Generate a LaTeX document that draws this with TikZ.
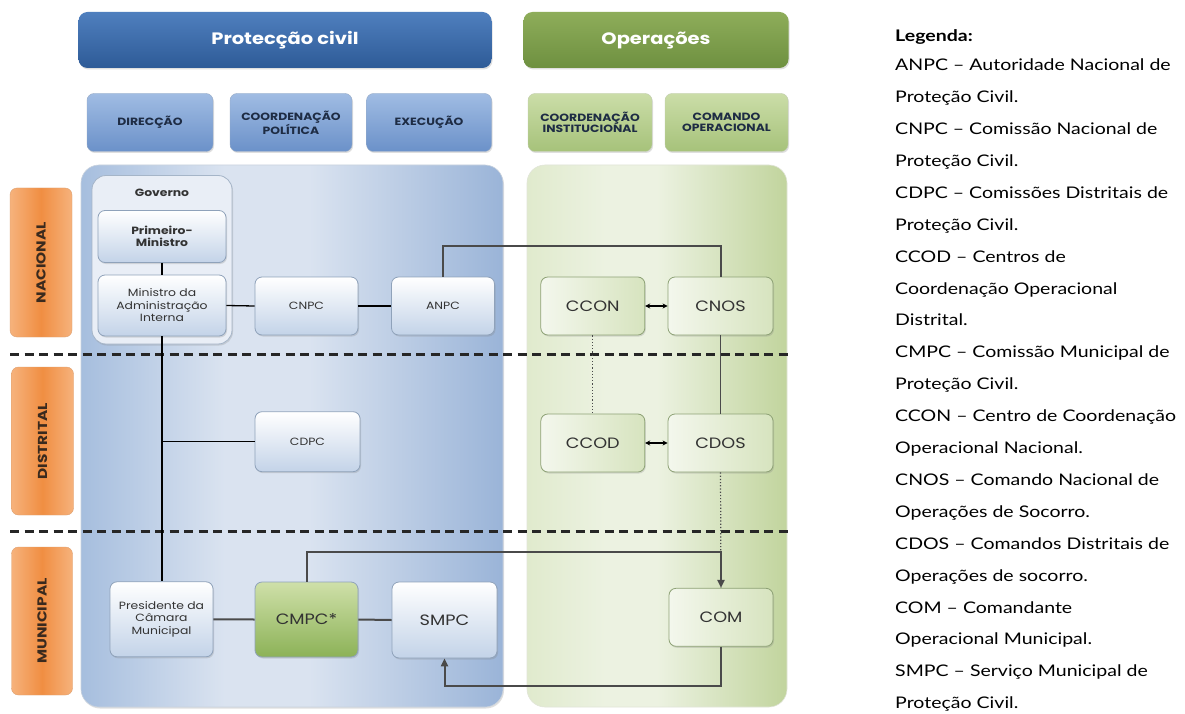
\documentclass[tikz,border=0pt]{standalone}
\usepackage{fontspec}
\setmainfont[FakeStretch=1.22]{Lato}
\newfontfamily\gothic[FakeStretch=1.18]{Poppins}
\usetikzlibrary{shadows,arrows.meta}

\definecolor{hdrbluetop}{HTML}{4F7FBE}
\definecolor{hdrbluebot}{HTML}{2E5B97}
\definecolor{hdrgreentop}{HTML}{8EAD5A}
\definecolor{hdrgreenbot}{HTML}{6E9040}
\definecolor{subbluetop}{HTML}{A0BCE3}
\definecolor{subbluebot}{HTML}{6B91C9}
\definecolor{subgreentop}{HTML}{CBDDA8}
\definecolor{subgreenbot}{HTML}{A6C27A}
\definecolor{panelblueA}{HTML}{A6BEDE}
\definecolor{panelblueB}{HTML}{DAE3F0}
\definecolor{panelblueC}{HTML}{9AB4D8}
\definecolor{nodeblue}{HTML}{C3D3E8}
\definecolor{govfill}{HTML}{E9EEF6}
\definecolor{panelgreenA}{HTML}{E0EACD}
\definecolor{panelgreenB}{HTML}{ECF2E1}
\definecolor{panelgreenC}{HTML}{C1D49D}
\definecolor{cmpctop}{HTML}{CFE0A9}
\definecolor{cmpcbot}{HTML}{8CB257}
\definecolor{orangeedge}{HTML}{F6B27C}
\definecolor{orangemid}{HTML}{F08E42}
\definecolor{labeltext}{HTML}{3A2A1E}
\definecolor{navytext}{HTML}{1E2C44}
\definecolor{boxborder}{HTML}{8FA2BA}
\definecolor{greenborder}{HTML}{8EA276}
\definecolor{linkgray}{HTML}{4A4A4A}
\definecolor{nodetext}{HTML}{333333}

% light band across the middle of the background panels
\pgfdeclarehorizontalshading{bluepanel}{100bp}{color(0bp)=(panelblueA); color(25bp)=(panelblueA);
  color(42bp)=(panelblueB); color(52bp)=(panelblueB); color(75bp)=(panelblueC); color(100bp)=(panelblueC)}
\pgfdeclarehorizontalshading{greenpanel}{100bp}{color(0bp)=(panelgreenA); color(25bp)=(panelgreenA);
  color(40bp)=(panelgreenB); color(50bp)=(panelgreenB); color(75bp)=(panelgreenC); color(100bp)=(panelgreenC)}

\begin{document}
\begin{tikzpicture}[x=1pt,y=-1pt,
  shadowed/.style={drop shadow={opacity=0.25,shadow xshift=1pt,shadow yshift=-1.5pt}},
  mainhdr/.style={rounded corners=9pt,inner sep=0pt,shadowed,
    font=\gothic\bfseries\fontsize{16.5}{20}\selectfont,text=white},
  bluehdr/.style={mainhdr,top color=hdrbluetop,bottom color=hdrbluebot},
  greenhdr/.style={mainhdr,top color=hdrgreentop,bottom color=hdrgreenbot},
  subhdr/.style={rounded corners=7pt,inner sep=0pt,shadowed,align=center,
    font=\gothic\bfseries\fontsize{10.5}{11}\selectfont,text=navytext},
  bluesub/.style={subhdr,top color=subbluetop,bottom color=subbluebot,draw=subbluebot!80!black!60},
  greensub/.style={subhdr,top color=subgreentop,bottom color=subgreenbot,draw=subgreenbot!80!black!50},
  level/.style={rounded corners=7pt,inner sep=0pt,left color=orangeedge,right color=orangeedge,
    middle color=orangemid,draw=orangeedge!90!black},
  leveltext/.style={rotate=90,font=\gothic\bfseries\fontsize{13}{15}\selectfont,text=labeltext},
  bluebox/.style={rounded corners=7pt,inner sep=1pt,align=center,shadowed,
    top color=white,bottom color=nodeblue,draw=boxborder,line width=0.8pt,
    text=nodetext},
  greenbox/.style={rounded corners=7pt,inner sep=1pt,align=center,shadowed,
    left color=panelgreenB!60!white,right color=panelgreenA!70!panelgreenC,draw=greenborder,line width=0.8pt,
    text=nodetext,font=\gothic\fontsize{15}{18}\selectfont},
  small/.style={font=\gothic\fontsize{10.5}{12.5}\selectfont},
  smallbold/.style={font=\gothic\bfseries\fontsize{10.5}{12.5}\selectfont},
  big/.style={font=\gothic\fontsize{15}{18}\selectfont},
  link/.style={draw=linkgray,line width=2pt},
  blacklink/.style={draw=black,line width=1.3pt},
  twoway/.style={draw=black,line width=1.6pt,{Stealth[length=5pt,width=5pt]}-{Stealth[length=5pt,width=5pt]}},
  dotlink/.style={draw=linkgray,line width=1.2pt,dotted},
  tip/.style={-{Triangle[length=8pt,width=7pt]}},
  separator/.style={draw=black!85,line width=2.2pt,dash pattern=on 9pt off 5.5pt}
]
\useasboundingbox (0,0) rectangle (1185,714);
\fill[white] (0,0) rectangle (1185,714);

% column headers
\node[bluehdr,minimum width=413pt,minimum height=56pt] (protec) at (285,40) {Protecção civil};
\node[greenhdr,minimum width=265pt,minimum height=56pt] (oper) at (656,40) {Operações};

\node[bluesub,minimum width=126pt,minimum height=58pt] (direc) at (150,122.5) {DIRECÇÃO};
\node[bluesub,minimum width=122pt,minimum height=58pt] (coordpol) at (291,122.5) {COORDENAÇÃO\\POLÍTICA};
\node[bluesub,minimum width=125pt,minimum height=58pt] (exec) at (429,122.5) {EXECUÇÃO};
\node[greensub,minimum width=124pt,minimum height=58pt] (coordinst) at (590,122.5) {COORDENAÇÃO\\INSTITUCIONAL};
\node[greensub,minimum width=123pt,minimum height=58pt] (comop) at (726.5,122.5) {COMANDO\\OPERACIONAL};

% background panels
\path[rounded corners=18pt,shading=bluepanel,
  draw=panelblueC!80!black!40,line width=0.6pt,shadowed] (81,165) rectangle (503,707);
\path[rounded corners=18pt,shading=greenpanel,
  draw=panelgreenC!80!black!30,line width=0.6pt] (527,165) rectangle (787,707);

% level labels
\node[level,minimum width=62pt,minimum height=149pt] (nac) at (41,262.5) {};
\node[leveltext] (nactxt) at (nac) {NACIONAL};
\node[level,minimum width=62pt,minimum height=148pt] (dis) at (42.5,441) {};
\node[leveltext] (distxt) at (dis) {DISTRITAL};
\node[level,minimum width=61pt,minimum height=148pt] (mun) at (42,621) {};
\node[leveltext] (muntxt) at (mun) {MUNICIPAL};

% level separators
\draw[separator] (10,354.5) -- (788,354.5);
\draw[separator] (10,531.5) -- (788,531.5);

% government group
\path[rounded corners=14pt,fill=govfill,draw=boxborder!80,line width=0.8pt,shadowed]
  (92,175.5) rectangle (232,344);
\node[smallbold,text=nodetext] (gov) at (162,193) {Governo};

% nodes, civil protection
\node[bluebox,smallbold,minimum width=128pt,minimum height=52pt] (pm) at (162,236.5) {Primeiro-\\Ministro};
\node[bluebox,small,minimum width=128pt,minimum height=61pt] (min) at (162,305.5) {Ministro da\\Administração\\Interna};
\node[bluebox,small,minimum width=103pt,minimum height=58pt] (cnpc) at (306.5,306) {CNPC};
\node[bluebox,small,minimum width=103pt,minimum height=58pt] (anpc) at (443,306) {ANPC};
\node[bluebox,small,minimum width=105pt,minimum height=60pt] (cdpc) at (307.5,441.7) {CDPC};
\node[bluebox,small,minimum width=103pt,minimum height=75pt] (pres) at (161.5,619.3) {Presidente da\\Câmara\\Municipal};
\node[rounded corners=7pt,inner sep=1pt,shadowed,top color=cmpctop,bottom color=cmpcbot,
  draw=boxborder,line width=0.8pt,text=nodetext,big,minimum width=103pt,minimum height=75pt] (cmpc) at (306.5,619.5) {CMPC*};
\node[bluebox,big,minimum width=105pt,minimum height=76pt] (smpc) at (444.5,620) {SMPC};

% nodes, operations
\node[greenbox,minimum width=104pt,minimum height=58pt] (ccon) at (592.8,306) {CCON};
\node[greenbox,minimum width=105pt,minimum height=58pt] (cnos) at (720.5,306) {CNOS};
\node[greenbox,minimum width=104pt,minimum height=58pt] (ccod) at (592.8,443) {CCOD};
\node[greenbox,minimum width=105pt,minimum height=58pt] (cdos) at (720.5,443) {CDOS};
\node[greenbox,minimum width=104pt,minimum height=58pt] (com) at (721,617.3) {COM};

% connectors
\coordinate (anpcup) at (0,246);
\coordinate (cmpcup) at (0,552);
\coordinate (combot) at (0,685.5);

\draw[blacklink] (pm) -- (min);
\draw[blacklink] (min.south) -- (min.south |- pres.north);
\draw[blacklink] (min.south |- cdpc.west) -- (cdpc.west);
\draw[blacklink] (min.east) -- (cnpc.west);
\draw[blacklink] (cnpc.east) -- (anpc.west);
\draw[link] (anpc.north) |- (cnos.north |- anpcup) -- (cnos.north);
\draw[twoway] (ccon.east) -- (cnos.west);
\draw[twoway] (ccod.east) -- (cdos.west);
\draw[dotlink] (ccon.south) -- (ccod.north);
\draw[draw=linkgray,line width=1.3pt] (cnos.south) -- (cdos.north);
\draw[dotlink] (cdos.south) -- (com.north);
\draw[link,tip] (cmpc.north) |- (com.north |- cmpcup) -- (com.north);
\draw[link,tip] (com.south) |- (smpc.south |- combot) -- (smpc.south);
\draw[link] (pres.east) -- (cmpc.west);
\draw[link] (cmpc.east) -- (smpc.west);

% legend
\node[anchor=base west,inner sep=0pt,font=\bfseries\fontsize{16}{19}\selectfont] (legtitle) at (895,41.5) {Legenda:};
\foreach \entry [count=\i] in {
  ANPC – Autoridade Nacional de,
  Proteção Civil.,
  CNPC – Comissão Nacional de,
  Proteção Civil.,
  CDPC – Comissões Distritais de,
  Proteção Civil.,
  CCOD – Centros de,
  Coordenação Operacional,
  Distrital.,
  CMPC – Comissão Municipal de,
  Proteção Civil.,
  CCON – Centro de Coordenação,
  Operacional Nacional.,
  CNOS – Comando Nacional de,
  Operações de Socorro.,
  CDOS – Comandos Distritais de,
  Operações de socorro.,
  COM – Comandante,
  Operacional Municipal.,
  SMPC – Serviço Municipal de,
  Proteção Civil.}
  \node[anchor=base west,inner sep=0pt,font=\fontsize{16}{19}\selectfont] (leg\i) at (895,{70.7+31.9*(\i-1)}) {\entry};
\end{tikzpicture}
\end{document}
